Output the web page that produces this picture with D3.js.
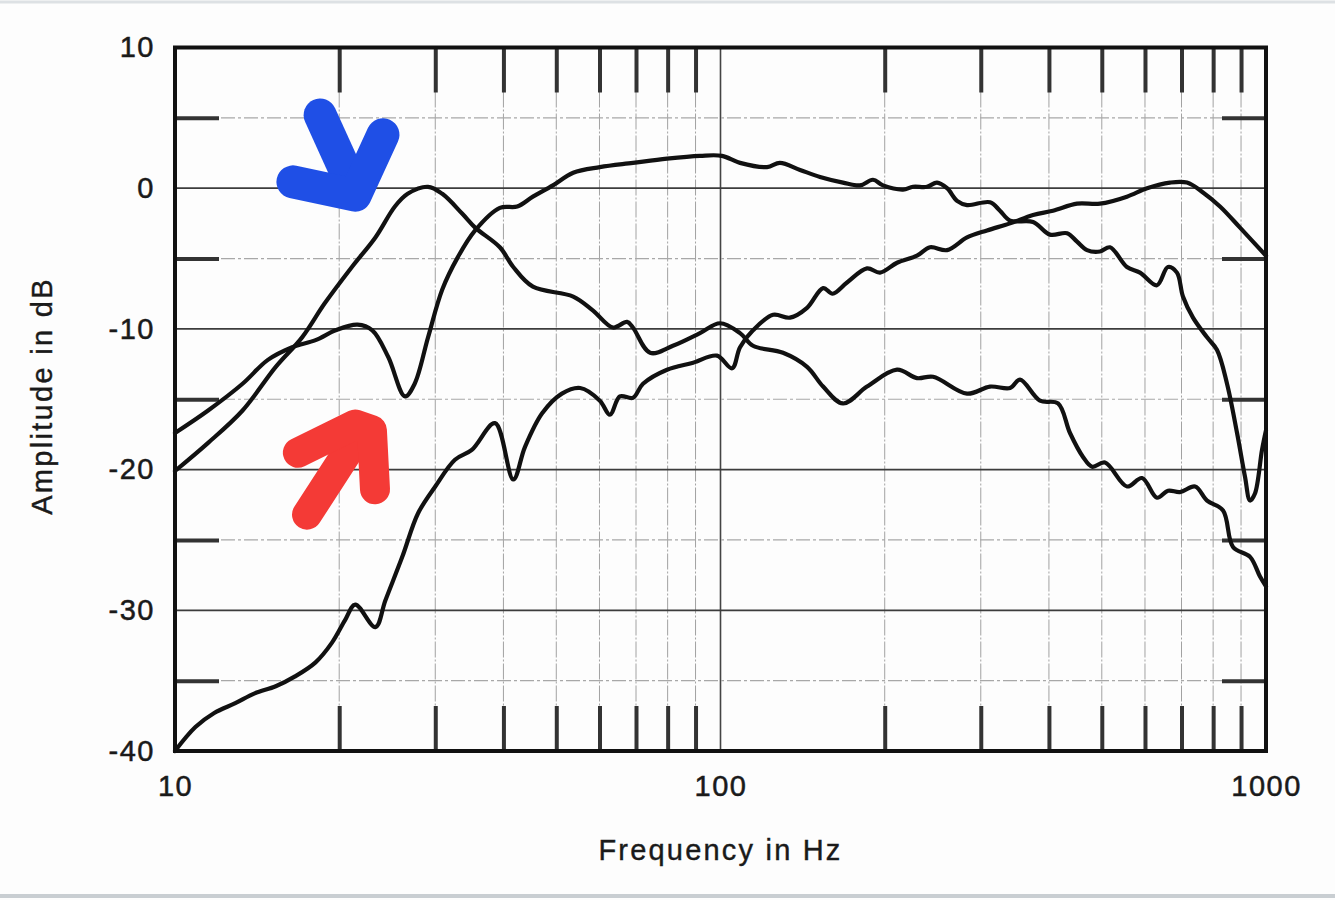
<!DOCTYPE html>
<html><head><meta charset="utf-8">
<script src="https://cdn.jsdelivr.net/npm/d3@7"></script>
<style>
html,body{margin:0;padding:0;background:#fdfdfd;}
svg{display:block;}
text{font-family:"Liberation Sans",Arial,sans-serif;fill:#1a1a1a;}
</style></head>
<body>
<svg id="chart" width="1335" height="900"></svg>
<script>
// ---- data (frequency in Hz, amplitude in dB) ----
const xLabels = [10, 100, 1000];
const yLabels = [10, 0, -10, -20, -30, -40];
const minorFreqs = [20,30,40,50,60,70,80,90,200,300,400,500,600,700,800,900];
const halfLevels = [5, -5, -15, -25, -35];
const majorLevels = [0, -10, -20, -30];

// curve peaking at ~29 Hz (blue arrow)
const seriesA = [
  [10,-20.1],[11.5,-18.1],[13.3,-15.8],[15.3,-12.7],[17.1,-10.6],[18.8,-8.2],[21.1,-5.6],
  [23.3,-3.5],[25.3,-1.3],[26.7,-0.4],[29.1,0.1],[30.9,-0.4],[33.6,-1.8],[35.5,-2.8],
  [39.4,-4.2],[41.7,-5.6],[45.3,-7.0],[53.7,-7.7],[58.4,-8.7],[63.5,-9.9],[67.4,-9.5],
  [69.1,-9.9],[74.3,-11.7],[81.8,-11.2],[91.7,-10.3],[99.8,-9.6],[108.6,-10.3],[114.7,-11.2],
  [130.2,-11.7],[144.1,-12.7],[154.2,-14.1],[167.7,-15.3],[185.6,-14.1],[210.7,-12.9],
  [229.2,-13.5],[245.3,-13.4],[283.1,-14.6],[311.9,-14.1],[339.5,-14.2],[354,-13.6],
  [385.2,-15.1],[415.7,-15.3],[437.2,-17.4],[461.9,-19.1],[480,-19.8],[506.8,-19.5],
  [556.2,-21.2],[592.6,-20.6],[631.2,-22.0],[661.4,-21.5],[695.5,-21.6],[741.3,-21.2],
  [779.8,-22.2],[834.2,-22.9],[870,-25.5],[934.8,-26.2],[975,-27.6],[1000,-28.3]
];
// woofer-like curve (broad plateau around 100 Hz)
const seriesB = [
  [10,-17.4],[11.5,-15.8],[13.3,-13.9],[14.8,-12.2],[16.4,-11.3],[18.1,-10.8],[19.7,-10.1],
  [21.6,-9.7],[23,-10.1],[24.6,-12.0],[26.4,-14.8],[27.5,-13.9],[29.1,-10.6],[30.9,-7.2],
  [33,-4.9],[35.5,-3.0],[39.4,-1.4],[42.4,-1.3],[45.3,-0.6],[49.3,0.2],[53.7,1.1],[60.1,1.5],
  [69.1,1.8],[79.8,2.1],[91.7,2.3],[100.6,2.3],[108.6,1.8],[121.7,1.5],[128.5,1.8],
  [139.9,1.3],[152.2,0.8],[167.7,0.4],[180.2,0.2],[190.3,0.6],[198.6,0.2],[216.1,-0.1],
  [225.4,0.1],[239.1,0.1],[249.4,0.4],[260.2,0.0],[271.4,-0.9],[283.1,-1.2],[311.9,-1.0],
  [325.3,-1.6],[339.5,-2.3],[374.1,-2.4],[401.8,-3.3],[431.8,-3.2],[450.4,-3.8],[469.8,-4.4],
  [496.2,-4.5],[517.6,-4.2],[556,-5.6],[587.5,-6.0],[631,-6.9],[661,-5.6],[686.7,-6.0],
  [704.3,-7.7],[734.8,-9.2],[779.8,-10.6],[813.3,-11.5],[848.3,-13.9],[885,-17.4],
  [915.1,-20.5],[934.8,-22.2],[954.5,-21.7],[983.3,-18.6],[1000,-17.2]
];
// curve rising from -40 dB (red arrow)
const seriesC = [
  [10,-40],[10.9,-38.3],[11.8,-37.3],[12.9,-36.6],[14,-35.9],[15.3,-35.4],[16.6,-34.7],
  [18.1,-33.7],[19.4,-32.3],[20.5,-30.7],[21.4,-29.6],[23.3,-31.2],[24.3,-29.3],[26.1,-26.2],
  [27.9,-23.1],[30,-21.2],[32.6,-19.3],[35,-18.6],[38.6,-16.7],[41.7,-20.7],[43.8,-18.4],
  [47.1,-16.0],[51.2,-14.6],[55.3,-14.2],[60.1,-15.1],[62.7,-16.1],[65.4,-14.8],[69.1,-14.9],
  [72.1,-13.9],[79.8,-12.9],[89.1,-12.4],[98.5,-11.9],[105,-12.8],[108.6,-11.3],[114.7,-10.1],
  [124.9,-9.0],[134.1,-9.2],[144.1,-8.5],[154.2,-7.1],[160.5,-7.5],[170.6,-6.7],[185.6,-5.7],
  [196.1,-6.0],[210.7,-5.3],[229.2,-4.8],[242.2,-4.2],[260.2,-4.4],[283.1,-3.5],[308,-3.0],
  [339.5,-2.5],[374.1,-1.9],[406.9,-1.6],[450.4,-1.1],[496.2,-1.1],[556,-0.6],[605.3,0.0],
  [666.8,0.4],[716.4,0.4],[766.4,-0.3],[823.5,-1.3],[896.1,-2.8],[1000,-4.8]
];
// hand-drawn annotation arrows (in data units)
const blueArrow = [
  [[18.45,5.2],[21.4,-0.3]],
  [[16.45,0.45],[21.4,-0.5],[24.06,3.8]]
];
const redArrow = [
  [[17.46,-23.2],[22.0,-17.2]],
  [[16.8,-18.8],[21.4,-16.8],[22.96,-17.2],[23.26,-21.4]]
];

// ---- scales ----
const svg = d3.select("#chart");
const L = 175, R = 1266, T = 47.5, B = 751;
const x = d3.scaleLog().domain([10, 1000]).range([L, R]);
const y = d3.scaleLinear().domain([-40, 10]).range([B, T]);

// faint page edges
svg.append("line").attr("x1", 0).attr("x2", 1335).attr("y1", 2).attr("y2", 2)
  .attr("stroke", "#dde1e4").attr("stroke-width", 3);
svg.append("line").attr("x1", 0).attr("x2", 1335).attr("y1", 896).attr("y2", 896)
  .attr("stroke", "#c9ced2").attr("stroke-width", 4);

// ---- grid ----
const g = svg.append("g");
g.selectAll("line.vminor").data(minorFreqs).join("line")
  .attr("x1", d => x(d)).attr("x2", d => x(d)).attr("y1", T).attr("y2", B)
  .attr("stroke", "#a2a2a2").attr("stroke-width", 1).attr("stroke-dasharray", "16,2,2,2");
g.append("line").attr("x1", x(100)).attr("x2", x(100)).attr("y1", T).attr("y2", B)
  .attr("stroke", "#444").attr("stroke-width", 1.6);
g.selectAll("line.hhalf").data(halfLevels).join("line")
  .attr("x1", L).attr("x2", R).attr("y1", d => y(d)).attr("y2", d => y(d))
  .attr("stroke", "#a8a8a8").attr("stroke-width", 1.2).attr("stroke-dasharray", "14,3,3,3");
g.selectAll("line.hmajor").data(majorLevels).join("line")
  .attr("x1", L).attr("x2", R).attr("y1", d => y(d)).attr("y2", d => y(d))
  .attr("stroke", "#3c3c3c").attr("stroke-width", 1.8);

// ---- inward tick marks via axes ----
const tickLen = 45;
const tickStyle = sel => {
  sel.select(".domain").remove();
  sel.selectAll(".tick line").attr("stroke", "#333").attr("stroke-width", 4);
  sel.selectAll(".tick text").remove();
};
svg.append("g").attr("transform", `translate(0,${T})`)
  .call(d3.axisTop(x).tickValues(minorFreqs).tickSize(-tickLen)).call(tickStyle);
svg.append("g").attr("transform", `translate(0,${B})`)
  .call(d3.axisBottom(x).tickValues(minorFreqs).tickSize(-tickLen)).call(tickStyle);
svg.append("g").attr("transform", `translate(${L},0)`)
  .call(d3.axisLeft(y).tickValues(halfLevels).tickSize(-44)).call(tickStyle);
svg.append("g").attr("transform", `translate(${R},0)`)
  .call(d3.axisRight(y).tickValues(halfLevels).tickSize(-44)).call(tickStyle);

// ---- frame ----
svg.append("rect").attr("x", L).attr("y", T).attr("width", R - L).attr("height", B - T)
  .attr("fill", "none").attr("stroke", "#111").attr("stroke-width", 4);

// ---- tick labels ----
const lab = sel => {
  sel.select(".domain").remove();
  sel.selectAll(".tick line").remove();
  sel.selectAll(".tick text").attr("font-size", 29).attr("letter-spacing", "1.5px")
    .attr("font-family", "Liberation Sans, Arial, sans-serif").attr("fill", "#1a1a1a")
    .attr("stroke", "#1a1a1a").attr("stroke-width", 0.5);
};
svg.append("g").attr("transform", `translate(0,${B})`)
  .call(d3.axisBottom(x).tickValues(xLabels).tickFormat(d3.format("d")).tickSize(0).tickPadding(24))
  .call(lab);
svg.append("g").attr("transform", `translate(155,0)`)
  .call(d3.axisLeft(y).tickValues(yLabels).tickFormat(d => d < 0 ? "-" + Math.abs(d) : String(d)).tickSize(0).tickPadding(0))
  .call(lab);

// ---- axis titles ----
svg.append("text").attr("x", x(100)).attr("y", 860).attr("text-anchor", "middle")
  .attr("font-size", 29).attr("letter-spacing", "2.2px").attr("stroke", "#1a1a1a").attr("stroke-width", 0.4)
  .text("Frequency in Hz");
svg.append("text").attr("transform", "translate(52,396) rotate(-90)").attr("text-anchor", "middle")
  .attr("font-size", 29).attr("letter-spacing", "2.3px").attr("stroke", "#1a1a1a").attr("stroke-width", 0.4)
  .text("Amplitude in dB");

// ---- curves ----
const line = d3.line().x(d => x(d[0])).y(d => y(d[1])).curve(d3.curveCatmullRom.alpha(0.5));
svg.append("g").selectAll("path.curve").data([seriesA, seriesB, seriesC]).join("path")
  .attr("d", line).attr("fill", "none").attr("stroke", "#111").attr("stroke-width", 4.2)
  .attr("stroke-linejoin", "round").attr("stroke-linecap", "round");

// ---- annotation arrows ----
const aline = d3.line().x(d => x(d[0])).y(d => y(d[1]));
svg.append("g").selectAll("path").data(blueArrow).join("path")
  .attr("d", aline).attr("fill", "none").attr("stroke", "#1f4fe6").attr("stroke-width", 33)
  .attr("stroke-linecap", "round").attr("stroke-linejoin", "round");
svg.append("g").selectAll("path").data(redArrow).join("path")
  .attr("d", aline).attr("fill", "none").attr("stroke", "#f43a36").attr("stroke-width", 30)
  .attr("stroke-linecap", "round").attr("stroke-linejoin", "round");
</script>
</body></html>
